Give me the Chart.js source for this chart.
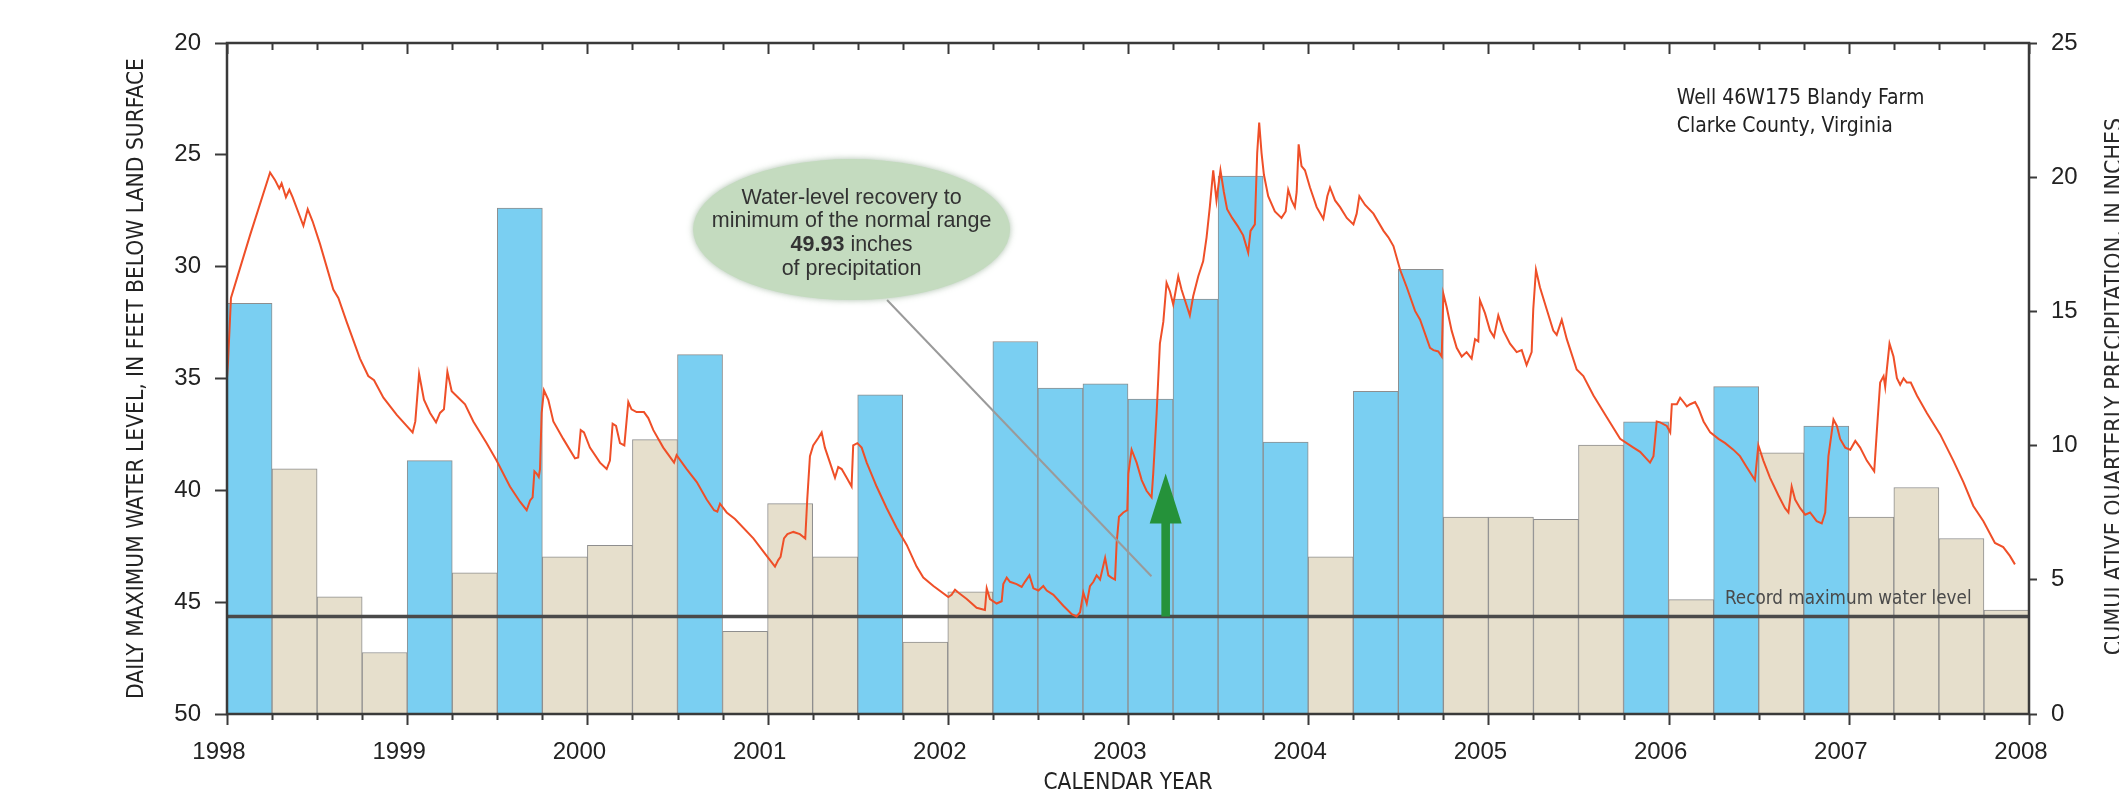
<!DOCTYPE html>
<html>
<head>
<meta charset="utf-8">
<script src="https://cdn.jsdelivr.net/npm/chart.js@4.4.1/dist/chart.umd.min.js"></script>
<style>
  html, body { margin: 0; padding: 0; background: #fff; overflow: hidden; }
  #wrap { width: 2119px; height: 799px; position: relative; }
</style>
</head>
<body>
<div id="wrap"><canvas id="chart" width="2119" height="799"></canvas></div>
<script>
// Quarterly precipitation totals, 1998 Q1 - 2007 Q4
const quarterLabels = [
  '1998 Q1','1998 Q2','1998 Q3','1998 Q4','1999 Q1','1999 Q2','1999 Q3','1999 Q4',
  '2000 Q1','2000 Q2','2000 Q3','2000 Q4','2001 Q1','2001 Q2','2001 Q3','2001 Q4',
  '2002 Q1','2002 Q2','2002 Q3','2002 Q4','2003 Q1','2003 Q2','2003 Q3','2003 Q4',
  '2004 Q1','2004 Q2','2004 Q3','2004 Q4','2005 Q1','2005 Q2','2005 Q3','2005 Q4',
  '2006 Q1','2006 Q2','2006 Q3','2006 Q4','2007 Q1','2007 Q2','2007 Q3','2007 Q4'
];
const precipInches = [
  15.30, 9.13, 4.37, 2.29,   9.44, 5.26, 18.85, 5.86,
   6.28, 10.22, 13.39, 3.08,  7.84, 5.86, 11.89, 2.68,
   4.55, 13.88, 12.14, 12.30, 11.73, 15.46, 20.04, 10.13,
   5.86, 12.02, 16.57, 7.34,  7.34, 7.25, 10.02, 10.89,
   4.26, 12.20, 9.73, 10.73,  7.34, 8.44, 6.54, 3.87
];
// 'above' = above-normal quarter, 'below' = below-normal quarter
const precipClass = [
  'above','below','below','below','above','below','above','below',
  'below','below','above','below','below','below','above','below',
  'below','above','above','above','above','above','above','above',
  'below','above','above','below','below','below','below','above',
  'below','above','below','above','below','below','below','below'
];

// Daily maximum water level (decimal year, feet below land surface)
const levelDate = [
  1998.000,1998.006,1998.022,1998.128,1998.239,1998.266,1998.290,1998.303,1998.327,1998.346,
  1998.364,1998.424,1998.448,1998.475,1998.516,1998.590,1998.618,1998.664,1998.738,1998.784,
  1998.816,1998.868,1998.942,1999.030,1999.045,1999.066,1999.093,1999.127,1999.160,1999.182,
  1999.204,1999.223,1999.247,1999.284,1999.321,1999.367,1999.441,1999.496,1999.570,1999.626,
  1999.663,1999.682,1999.696,1999.706,1999.718,1999.730,1999.737,1999.746,1999.759,1999.783,
  1999.811,1999.866,1999.931,1999.949,1999.963,1999.981,2000.014,2000.070,2000.107,2000.125,
  2000.140,2000.159,2000.181,2000.205,2000.227,2000.245,2000.273,2000.314,2000.338,2000.366,
  2000.421,2000.481,2000.495,2000.551,2000.607,2000.662,2000.703,2000.721,2000.736,2000.773,
  2000.819,2000.921,2000.995,2001.041,2001.059,2001.072,2001.091,2001.110,2001.143,2001.179,
  2001.209,2001.220,2001.235,2001.253,2001.281,2001.300,2001.318,2001.346,2001.374,2001.392,
  2001.411,2001.439,2001.466,2001.475,2001.498,2001.522,2001.550,2001.605,2001.661,2001.716,
  2001.772,2001.827,2001.864,2001.920,2002.003,2002.021,2002.040,2002.058,2002.105,2002.160,
  2002.206,2002.216,2002.234,2002.271,2002.299,2002.308,2002.327,2002.345,2002.382,2002.410,
  2002.428,2002.453,2002.475,2002.503,2002.530,2002.549,2002.586,2002.641,2002.688,2002.715,
  2002.734,2002.752,2002.771,2002.789,2002.808,2002.826,2002.845,2002.873,2002.891,2002.908,
  2002.928,2002.937,2002.950,2002.974,2002.996,2003.002,2003.020,2003.048,2003.076,2003.103,
  2003.131,2003.140,2003.159,2003.177,2003.196,2003.214,2003.233,2003.251,2003.279,2003.297,
  2003.316,2003.343,2003.362,2003.390,2003.417,2003.436,2003.454,2003.473,2003.491,2003.513,
  2003.532,2003.550,2003.578,2003.611,2003.639,2003.667,2003.680,2003.704,2003.717,2003.728,
  2003.741,2003.754,2003.778,2003.815,2003.852,2003.875,2003.889,2003.908,2003.926,2003.936,
  2003.947,2003.963,2003.982,2004.010,2004.047,2004.084,2004.106,2004.121,2004.149,2004.177,
  2004.214,2004.251,2004.269,2004.284,2004.316,2004.362,2004.418,2004.445,2004.473,2004.510,
  2004.547,2004.593,2004.621,2004.676,2004.695,2004.722,2004.741,2004.750,2004.768,2004.796,
  2004.824,2004.852,2004.879,2004.907,2004.926,2004.944,2004.953,2004.981,2005.009,2005.031,
  2005.055,2005.083,2005.120,2005.157,2005.185,2005.212,2005.240,2005.249,2005.264,2005.286,
  2005.323,2005.360,2005.379,2005.407,2005.435,2005.490,2005.527,2005.583,2005.657,2005.731,
  2005.805,2005.842,2005.897,2005.916,2005.934,2005.953,2005.990,2006.009,2006.018,2006.046,
  2006.064,2006.083,2006.101,2006.120,2006.147,2006.166,2006.194,2006.231,2006.277,2006.314,
  2006.359,2006.396,2006.433,2006.479,2006.498,2006.526,2006.563,2006.609,2006.646,2006.665,
  2006.683,2006.702,2006.730,2006.758,2006.785,2006.822,2006.850,2006.869,2006.887,2006.915,
  2006.934,2006.952,2006.980,2007.008,2007.036,2007.063,2007.100,2007.141,2007.156,2007.174,
  2007.193,2007.202,2007.211,2007.226,2007.248,2007.267,2007.285,2007.304,2007.322,2007.344,
  2007.378,2007.433,2007.507,2007.580,2007.636,2007.691,2007.747,2007.811,2007.857,2007.894,
  2007.922
];
const levelFeet = [
  34.99,34.21,31.40,28.59,25.79,26.12,26.50,26.27,26.89,26.56,
  26.89,28.17,27.43,27.97,28.98,31.02,31.40,32.47,34.11,34.89,
  35.08,35.86,36.63,37.41,36.92,34.79,35.95,36.54,36.96,36.54,
  36.38,34.70,35.57,35.86,36.15,36.92,37.89,38.67,39.83,40.51,
  40.89,40.45,40.31,39.15,39.25,39.40,39.05,36.54,35.53,35.95,
  36.92,37.70,38.57,38.53,37.31,37.41,38.09,38.76,39.05,38.67,
  37.02,37.12,37.89,37.99,36.05,36.38,36.50,36.50,36.77,37.31,
  38.09,38.76,38.43,39.05,39.63,40.41,40.89,40.95,40.60,40.99,
  41.28,42.15,42.93,43.41,43.12,42.97,42.15,41.96,41.86,41.96,
  42.15,40.41,38.47,37.99,37.66,37.41,38.09,38.76,39.44,38.96,
  39.05,39.44,39.83,37.99,37.89,38.09,38.76,39.83,40.80,41.67,
  42.44,43.41,43.90,44.28,44.77,44.67,44.44,44.57,44.86,45.25,
  45.35,44.38,44.86,45.06,44.96,44.19,43.90,44.09,44.19,44.32,
  44.09,43.80,44.38,44.48,44.28,44.48,44.67,45.16,45.54,45.64,
  45.45,44.57,45.06,44.28,44.09,43.80,43.99,43.02,43.80,43.90,
  43.99,42.35,41.18,40.99,40.89,39.25,38.18,38.76,39.54,40.02,
  40.31,39.25,36.54,33.44,32.47,30.72,31.11,31.69,30.43,31.02,
  31.50,32.18,31.31,30.43,29.76,28.69,27.33,25.69,27.04,25.69,
  26.66,27.43,27.82,28.21,28.60,29.37,28.40,28.11,24.91,23.56,
  24.91,25.88,26.85,27.53,27.82,27.53,26.56,27.04,27.34,26.66,
  24.53,25.50,25.69,26.46,27.34,27.86,26.85,26.46,27.04,27.34,
  27.82,28.11,27.63,26.85,27.24,27.63,28.40,28.69,29.08,30.14,
  30.92,31.98,32.37,33.63,33.73,33.79,34.02,31.21,31.79,32.86,
  33.63,34.02,33.82,34.11,33.24,33.34,31.50,32.08,32.86,33.15,
  32.18,32.86,33.44,33.82,33.73,34.40,33.82,31.89,30.14,30.92,
  31.89,32.86,33.05,32.37,33.24,34.60,34.89,35.76,36.73,37.70,
  38.09,38.28,38.76,38.47,36.92,36.96,37.12,37.41,36.15,36.15,
  35.86,36.05,36.25,36.15,36.05,36.34,36.92,37.41,37.70,37.89,
  38.18,38.47,38.96,39.54,37.99,38.67,39.44,40.22,40.80,40.99,
  39.83,40.41,40.80,41.09,40.99,41.38,41.48,40.99,38.47,36.83,
  37.12,37.70,38.09,38.18,37.79,38.09,38.67,39.15,37.31,35.18,
  34.89,35.37,34.60,33.44,34.02,34.99,35.28,34.99,35.18,35.18,
  35.76,36.54,37.50,38.67,39.63,40.70,41.38,42.35,42.54,42.93,
  43.31
];

const recordLevel = 45.64;          // record maximum water level, feet
const recoveryLevel = 39.25;        // arrow tip: minimum of the normal range, feet
const recoveryDate = 2003.209;      // date the recovery is reached
const yearTicks = [1998, 1999, 2000, 2001, 2002, 2003, 2004, 2005, 2006, 2007, 2008];
const levelTicks = [20, 25, 30, 35, 40, 45, 50];
const precipTicks = [0, 5, 10, 15, 20, 25];

const calloutLines = ['Water-level recovery to', 'minimum of the normal range', '49.93', ' inches', 'of precipitation'];
const wellLines = ['Well 46W175 Blandy Farm', 'Clarke County, Virginia'];

const COLORS = { above: '#7ACFF2', below: '#E6DFCC' };
const NARROW = '"DejaVu Sans Condensed", "Liberation Sans", sans-serif';
const SANS = '"Liberation Sans", Arial, sans-serif';

const barPoints = precipInches.map((v, i) => ({ x: yearTicks[0] + (i + 0.5) / 4, y: v }));
const levelPoints = levelDate.map((d, i) => ({ x: d, y: levelFeet[i] }));

// frame, quarter ticks and annotations drawn on top of the datasets
const decorations = {
  id: 'decorations',
  afterDatasetsDraw(chart) {
    const { ctx, chartArea: a, scales } = chart;
    const xs = scales.x, yl = scales.yL;
    ctx.save();

    // leader from the callout to the recovery point
    ctx.strokeStyle = '#9a9a9a';
    ctx.lineWidth = 2;
    ctx.beginPath();
    ctx.moveTo(xs.getPixelForValue(2001.663), yl.getPixelForValue(31.49));
    ctx.lineTo(xs.getPixelForValue(2003.130), yl.getPixelForValue(43.84));
    ctx.stroke();

    // recovery arrow
    const ax = xs.getPixelForValue(recoveryDate);
    const tip = yl.getPixelForValue(recoveryLevel);
    const base = yl.getPixelForValue(recordLevel);
    const headLen = 50, headHalf = 16, shaftHalf = 4.3;
    ctx.fillStyle = '#25923A';
    ctx.beginPath();
    ctx.moveTo(ax, tip);
    ctx.lineTo(ax + headHalf, tip + headLen);
    ctx.lineTo(ax + shaftHalf, tip + headLen);
    ctx.lineTo(ax + shaftHalf, base);
    ctx.lineTo(ax - shaftHalf, base);
    ctx.lineTo(ax - shaftHalf, tip + headLen);
    ctx.lineTo(ax - headHalf, tip + headLen);
    ctx.closePath();
    ctx.fill();

    // callout ellipse
    const ecx = xs.getPixelForValue(2001.466);
    const ecy = yl.getPixelForValue(28.34);
    ctx.save();
    ctx.shadowColor = 'rgba(150,175,150,0.8)';
    ctx.shadowBlur = 6;
    ctx.fillStyle = '#C4DBBF';
    ctx.beginPath();
    ctx.ellipse(ecx, ecy, 158.5, 70.5, 0, 0, Math.PI * 2);
    ctx.fill();
    ctx.restore();

    ctx.fillStyle = '#333';
    ctx.textBaseline = 'middle';
    ctx.textAlign = 'center';
    const lh = 23.8, ty = ecy + 3.9;
    const reg = '21.5px ' + SANS, bold = 'bold 21.5px ' + SANS;
    ctx.font = reg;
    ctx.fillText(calloutLines[0], ecx, ty - 1.5 * lh);
    ctx.fillText(calloutLines[1], ecx, ty - 0.5 * lh);
    ctx.font = bold;
    const wb = ctx.measureText(calloutLines[2]).width;
    ctx.font = reg;
    const wr = ctx.measureText(calloutLines[3]).width;
    ctx.textAlign = 'left';
    const sx = ecx - (wb + wr) / 2;
    ctx.font = bold;
    ctx.fillText(calloutLines[2], sx, ty + 0.5 * lh);
    ctx.font = reg;
    ctx.fillText(calloutLines[3], sx + wb, ty + 0.5 * lh);
    ctx.textAlign = 'center';
    ctx.fillText(calloutLines[4], ecx, ty + 1.5 * lh);

    // well name
    ctx.textAlign = 'left';
    ctx.fillStyle = '#222';
    ctx.font = '21px ' + NARROW;
    const wx = xs.getPixelForValue(2006.045);
    ctx.fillText(wellLines[0], wx, yl.getPixelForValue(22.49));
    ctx.fillText(wellLines[1], wx, yl.getPixelForValue(23.75));

    // record level label
    ctx.fillStyle = '#4a4a4a';
    ctx.font = '18.7px ' + NARROW;
    ctx.fillText('Record maximum water level', xs.getPixelForValue(2006.313), yl.getPixelForValue(44.86));

    // plot frame
    ctx.strokeStyle = '#3a3a3a';
    ctx.lineWidth = 2.5;
    ctx.strokeRect(a.left, a.top, a.right - a.left, a.bottom - a.top);

    // quarter tick marks: outward at the bottom, inward at the top
    ctx.lineWidth = 2;
    const first = yearTicks[0], last = yearTicks[yearTicks.length - 1];
    for (let q = 0; q <= (last - first) * 4; q++) {
      const px = Math.round(xs.getPixelForValue(first + q / 4)) + 0.5;
      const major = q % 4 === 0;
      ctx.beginPath();
      ctx.moveTo(px, a.bottom);
      ctx.lineTo(px, a.bottom + (major ? 11 : 6));
      ctx.moveTo(px, a.top);
      ctx.lineTo(px, a.top + (major ? 11 : 7));
      ctx.stroke();
    }

    // right axis title, reading upward
    ctx.save();
    ctx.translate(a.right + 75, (a.top + a.bottom) / 2 + 8);
    ctx.rotate(-Math.PI / 2);
    ctx.textAlign = 'center';
    ctx.textBaseline = 'top';
    ctx.fillStyle = '#2a2a2a';
    ctx.font = '23px ' + NARROW;
    ctx.fillText('CUMULATIVE QUARTERLY PRECIPITATION, IN INCHES', 0, 0);
    ctx.restore();

    ctx.restore();
  }
};

new Chart(document.getElementById('chart'), {
  type: 'bar',
  data: {
    datasets: [
      {
        type: 'line',
        label: 'Daily maximum water level',
        data: levelPoints,
        yAxisID: 'yL',
        borderColor: '#EF4F28',
        borderWidth: 2,
        pointRadius: 0,
        tension: 0,
        order: 0
      },
      {
        type: 'line',
        label: 'Record maximum water level',
        data: [{ x: yearTicks[0], y: recordLevel }, { x: yearTicks[yearTicks.length - 1], y: recordLevel }],
        yAxisID: 'yL',
        borderColor: '#4a4a4a',
        borderWidth: 3.5,
        pointRadius: 0,
        order: 1
      },
      {
        type: 'bar',
        label: 'Quarterly precipitation',
        data: barPoints,
        yAxisID: 'yR',
        backgroundColor: precipClass.map(c => COLORS[c]),
        borderColor: '#8e8e8e',
        borderWidth: 1,
        barPercentage: 1,
        categoryPercentage: 1,
        order: 2
      }
    ]
  },
  options: {
    responsive: false,
    devicePixelRatio: 1,
    animation: false,
    events: [],
    layout: { padding: { top: 43, left: 0, right: 0, bottom: 0 } },
    plugins: { legend: { display: false }, tooltip: { enabled: false } },
    scales: {
      x: {
        type: 'linear',
        position: 'bottom',
        min: yearTicks[0],
        max: yearTicks[yearTicks.length - 1],
        offset: false,
        afterFit: s => { s.height = 85; },
        grid: { display: false, drawTicks: false },
        border: { display: false },
        afterBuildTicks: s => { s.ticks = yearTicks.map(v => ({ value: v })); },
        ticks: {
          autoSkip: false,
          maxRotation: 0,
          padding: 24,
          labelOffset: -8,
          color: '#222',
          font: { family: SANS, size: 24 },
          callback: v => String(v)
        },
        title: {
          display: true,
          text: 'CALENDAR YEAR',
          color: '#222',
          font: { family: NARROW, size: 22.4 },
          padding: { top: 0, bottom: 2 }
        }
      },
      yL: {
        type: 'linear',
        position: 'left',
        reverse: true,
        min: levelTicks[0],
        max: levelTicks[levelTicks.length - 1],
        afterFit: s => { s.width = 227; },
        afterBuildTicks: s => { s.ticks = levelTicks.map(v => ({ value: v })); },
        grid: { display: true, drawOnChartArea: false, drawTicks: true, tickLength: 12, tickColor: '#3a3a3a', tickWidth: 2 },
        border: { display: false },
        ticks: { padding: 14, color: '#222', font: { family: SANS, size: 24 } },
        title: {
          display: true,
          text: 'DAILY MAXIMUM WATER LEVEL, IN FEET BELOW LAND SURFACE',
          color: '#222',
          font: { family: NARROW, size: 22.6 },
          padding: { top: 124, bottom: 0 }
        }
      },
      yR: {
        type: 'linear',
        position: 'right',
        min: precipTicks[0],
        max: precipTicks[precipTicks.length - 1],
        afterFit: s => { s.width = 90; },
        afterBuildTicks: s => { s.ticks = precipTicks.map(v => ({ value: v })); },
        grid: { display: true, drawOnChartArea: false, drawTicks: true, tickLength: 8, tickColor: '#3a3a3a', tickWidth: 2 },
        border: { display: false },
        ticks: { padding: 14, color: '#222', font: { family: SANS, size: 24 } }
      }
    }
  },
  plugins: [decorations]
});
</script>
</body>
</html>
